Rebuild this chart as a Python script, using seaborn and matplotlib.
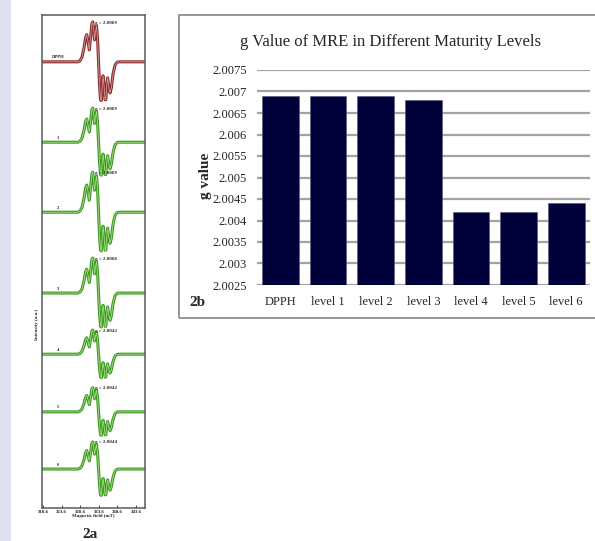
import matplotlib
matplotlib.use('Agg')
import matplotlib.pyplot as plt
import seaborn as sns
import pandas as pd
from matplotlib.patches import Rectangle

# --- bar chart (2b) ---
samples = ['DPPH', 'level 1', 'level 2', 'level 3', 'level 4', 'level 5', 'level 6']
g_values = [2.0069, 2.0069, 2.0069, 2.0068, 2.0042, 2.0042, 2.0044]
g_ticks = [2.0025, 2.003, 2.0035, 2.004, 2.0045, 2.005, 2.0055, 2.006, 2.0065, 2.007, 2.0075]
g_tick_labels = ['2.0025', '2.003', '2.0035', '2.004', '2.0045', '2.005',
                 '2.0055', '2.006', '2.0065', '2.007', '2.0075']

# --- ESR spectra (2a) ---
spectrum_names = ['DPPH', '1', '2', '3', '4', '5', '6']
spectrum_g = ['g = 2.0069', 'g = 2.0069', 'g = 2.0069', 'g = 2.0068',
              'g = 2.0042', 'g = 2.0042', 'g = 2.0044']
spectrum_offsets = [90.5, 74.2, 60.0, 43.6, 31.2, 19.5, 7.9]
spectrum_amps = [8.1, 6.9, 8.1, 7.1, 4.9, 4.9, 5.5]
# shared derivative line shape (field in mT, relative intensity)
field_mT = [318.3, 328.0, 328.55, 329.08, 329.62, 330.02, 330.35, 330.7, 331.05, 331.37,
            331.72, 331.96, 332.23, 332.44, 332.71, 332.98, 333.25, 333.52, 333.79, 334.06,
            334.27, 334.51, 334.73, 335.0, 335.27, 335.48, 335.75, 335.96, 336.23, 336.61,
            336.96, 337.42, 337.95, 338.49, 339.03, 346.0]
shape = [0.0, 0.0, 0.03, 0.12, 0.35, 0.6, 0.68, 0.5, 0.3, 0.6,
         0.95, 1.0, 0.8, 0.55, 0.75, 0.9, 0.6, 0.0, -0.6, -0.95,
         -0.97, -0.6, -0.35, -0.6, -0.95, -0.95, -0.55, -0.4, -0.6, -0.78,
         -0.65, -0.3, -0.08, -0.01, 0.0, 0.0]
field_ticks = [318.6, 323.6, 328.6, 333.6, 338.6, 343.6]

W, H = 595, 541
sns.set_theme(style='white')
plt.rcParams['font.family'] = ['Liberation Serif', 'DejaVu Serif']

fig = plt.figure(figsize=(W / 100, H / 100), dpi=100)
fig.patch.set_facecolor('white')
fig.patches.append(Rectangle((0, 0), 11 / W, 1, transform=fig.transFigure,
                             facecolor='#dde1ee', edgecolor='none', zorder=-1))
fig.patches.append(Rectangle((179 / W, 1 - 318 / H), (610 - 179) / W, (318 - 15) / H,
                             transform=fig.transFigure, fill=False,
                             edgecolor='#8f8f8f', linewidth=1.3))

# left panel: stacked spectra
ax1 = fig.add_axes([42 / W, 1 - 508 / H, 103 / W, 493 / H])
for i, name in enumerate(spectrum_names):
    df = pd.DataFrame({'field': field_mT,
                       'intensity': [spectrum_offsets[i] + spectrum_amps[i] * s for s in shape]})
    dark, light = ('#8a2d2d', '#d49a9a') if i == 0 else ('#3c9a22', '#a6dc84')
    sns.lineplot(data=df, x='field', y='intensity', sort=False, estimator=None,
                 color=dark, linewidth=2.2, ax=ax1)
    sns.lineplot(data=df, x='field', y='intensity', sort=False, estimator=None,
                 color=light, linewidth=0.6, ax=ax1)
    ax1.text(322.6, spectrum_offsets[i] + 0.5, name, fontsize=3.3, fontweight='bold',
             ha='center', va='bottom')
    ax1.text(332.6, spectrum_offsets[i] + spectrum_amps[i] * 0.98, spectrum_g[i],
             fontsize=3.6, fontweight='bold', ha='left', va='center')
ax1.set_xlim(318.33, 346.0)
ax1.set_ylim(0, 100)
ax1.set_yticks([])
ax1.set_xticks(field_ticks)
ax1.set_xticklabels([f'{v:.1f}' for v in field_ticks], fontsize=3.6, fontweight='bold')
ax1.tick_params(axis='x', direction='in', length=2, width=0.6, pad=1.5, bottom=True)
ax1.set_xlabel('Magnetic field (mT)', fontsize=3.6, fontweight='bold', labelpad=0.3)
ax1.set_ylabel('')
for sp in ax1.spines.values():
    sp.set_color('#5a5a5a')
    sp.set_linewidth(1.1)
fig.text(37 / W, 1 - 324 / H, 'Intensity (a.u.)', fontsize=3.6, fontweight='bold',
         rotation=90, ha='center', va='center')
fig.text(90 / W, 1 - 534 / H, '2a', fontsize=11, fontweight='bold', ha='center', va='center')

# right panel: bar chart
ax2 = fig.add_axes([256.7 / W, 1 - 285 / H, (590 - 256.7) / W, 215 / H])
sns.barplot(x=samples, y=g_values, color='#00003a', saturation=1, width=0.77,
            edgecolor='#59607f', linewidth=0.5, ax=ax2)
ax2.set_ylim(2.0025, 2.0075)
ax2.set_yticks(g_ticks)
ax2.set_yticklabels(g_tick_labels, fontsize=9)
ax2.set_xlim(-0.5, 6.5)
ax2.tick_params(axis='x', labelsize=9, length=0, pad=8)
ax2.tick_params(axis='y', length=0, pad=7)
ax2.yaxis.grid(True, color='#a3a3a3', linewidth=1.6)
ax2.set_axisbelow(True)
for sp in ax2.spines.values():
    sp.set_visible(False)
ax2.set_xlabel('')
ax2.set_ylabel('')
fig.text(390 / W, 1 - 42 / H, 'g Value of MRE in Different Maturity Levels',
         fontsize=12, ha='center', va='center')
fig.text(205 / W, 1 - 176 / H, 'g value', fontsize=11, fontweight='bold',
         rotation=90, ha='center', va='center')
fig.text(197 / W, 1 - 303 / H, '2b', fontsize=11, fontweight='bold', ha='center', va='center')

fig.savefig('out.png', dpi=100)
